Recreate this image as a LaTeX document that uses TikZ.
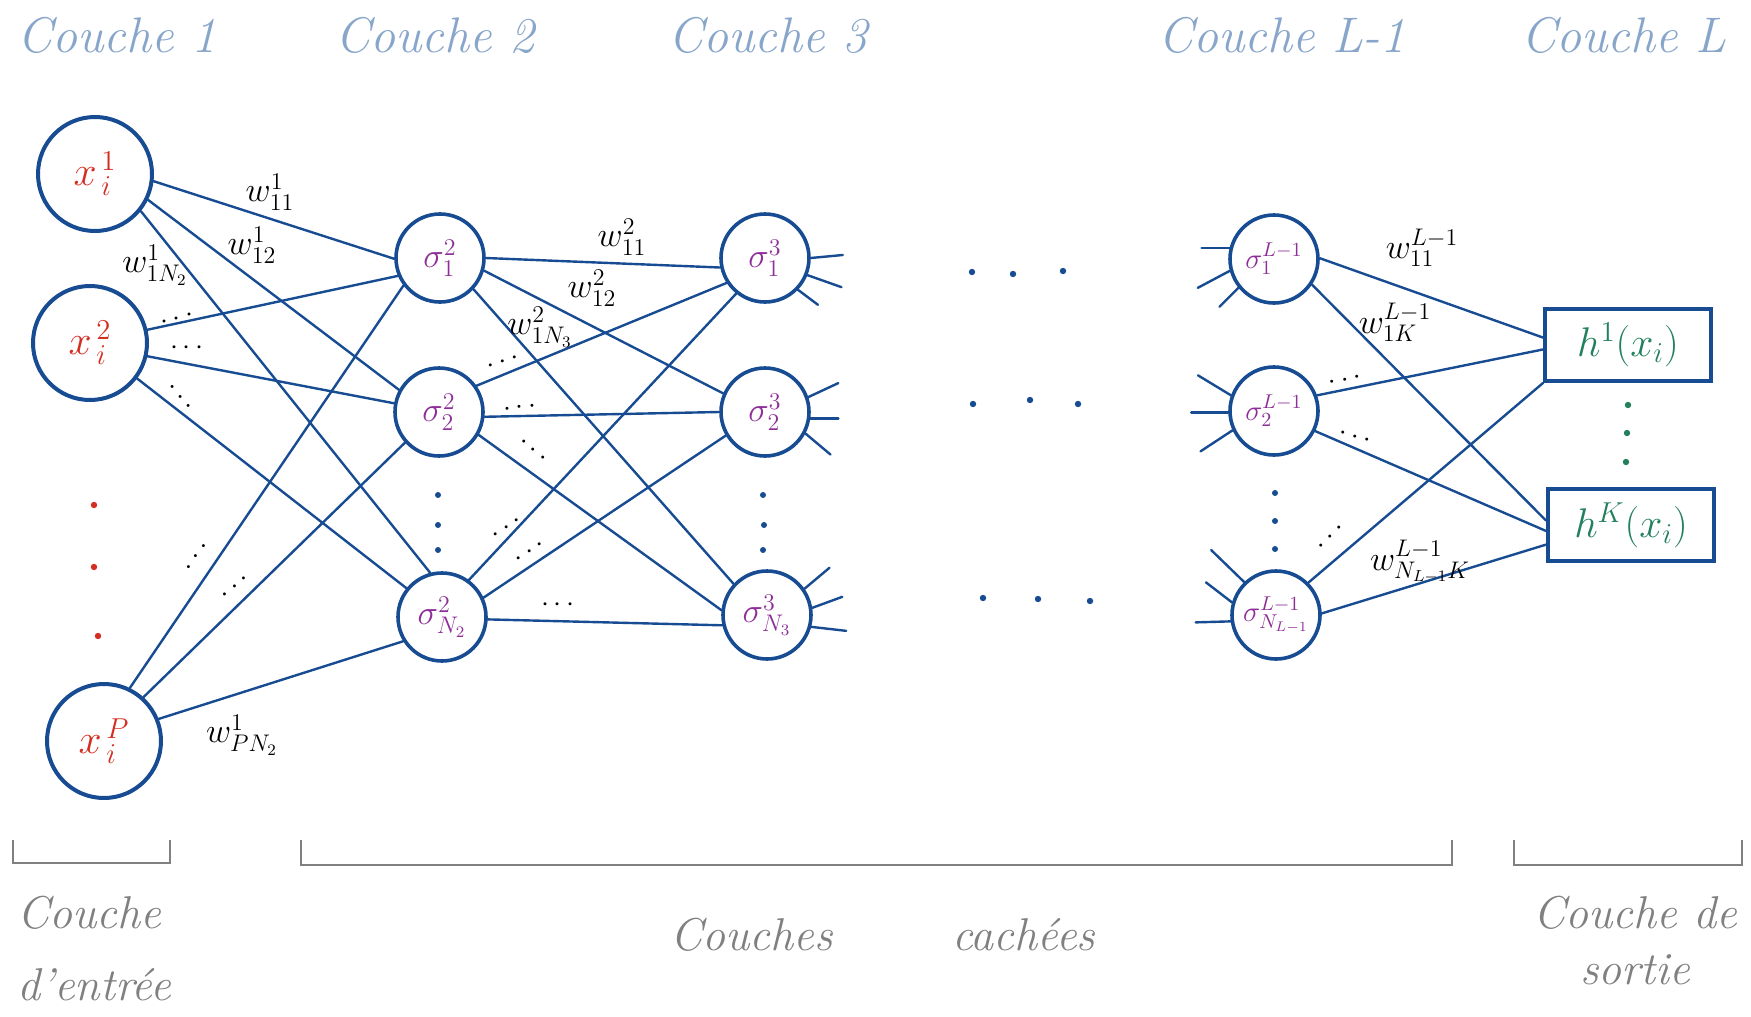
\documentclass[tikz,border=0pt]{standalone}
\usepackage{fontspec}
\usetikzlibrary{calc}

\definecolor{netblue}{RGB}{24,76,146}
\definecolor{inred}{RGB}{212,46,34}
\definecolor{hidpurple}{RGB}{142,46,152}
\definecolor{outgreen}{RGB}{34,128,92}
\definecolor{titleblue}{RGB}{136,166,202}
\definecolor{notegrey}{RGB}{128,128,128}

\tikzset{
  inneuron/.style={circle,draw=netblue,line width=2pt,minimum size=57pt,inner sep=0pt,
    text=inred,font=\fontsize{22}{22}\selectfont},
  hidneuron/.style={circle,draw=netblue,line width=1.8pt,minimum size=44pt,inner sep=0pt,
    text=hidpurple,font=\fontsize{17}{17}\selectfont},
  lastneuron/.style={hidneuron,font=\fontsize{14}{14}\selectfont},
  outunit/.style={rectangle,draw=netblue,line width=2pt,minimum width=83pt,minimum height=36pt,
    inner sep=0pt,text=outgreen,font=\fontsize{20}{20}\selectfont},
  link/.style={draw=netblue,line width=1.2pt,line cap=round},
  weight/.style={font=\fontsize{17}{17}\selectfont,inner sep=0pt},
  ell/.style={font=\fontsize{14}{14}\selectfont,inner sep=0pt},
  layertitle/.style={anchor=base west,text=titleblue,font=\fontsize{25}{30}\selectfont\itshape,inner sep=0pt},
  groupnote/.style={text=notegrey,font=\fontsize{23}{30}\selectfont\itshape,inner sep=0pt},
  bracket/.style={draw=notegrey,line width=1.3pt},
}

\begin{document}
\begin{tikzpicture}[x=0.5pt,y=-0.5pt]
\fill[white] (0,0) rectangle (1751,1017);
\useasboundingbox (0,0) rectangle (1751,1017);

% layer titles
\node[layertitle] (t1) at (17,52) {Couche 1};
\node[layertitle] (t2) at (335,52) {Couche 2};
\node[layertitle] (t3) at (668,52) {Couche 3};
\node[layertitle] (tL1) at (1158,52) {Couche L-1};
\node[layertitle] (tL) at (1521,52) {Couche L};

% input layer
\node[inneuron] (x1) at (95,174) {$x^{\,1}_{\,i}$};
\node[inneuron] (x2) at (90,343) {$x^{\,2}_{\,i}$};
\node[inneuron] (xP) at (104,741) {$x^{\,P}_{\,i}$};
\foreach \p in {(94,505),(94,567),(98,636)} \fill[inred] \p circle[radius=1.6pt];

% hidden layer 2
\node[hidneuron] (a1) at (440,258) {$\sigma^{2}_{1}$};
\node[hidneuron] (a2) at (439,412) {$\sigma^{2}_{2}$};
\node[hidneuron] (aN) at (442,617) {$\sigma^{2}_{N_2}$};
\foreach \p in {(438,495),(438,525),(438,550)} \fill[netblue] \p circle[radius=1.5pt];

% hidden layer 3
\node[hidneuron] (b1) at (765,258) {$\sigma^{3}_{1}$};
\node[hidneuron] (b2) at (765,412) {$\sigma^{3}_{2}$};
\node[hidneuron] (bN) at (767,615) {$\sigma^{3}_{N_3}$};
\foreach \p in {(763,495),(764,525),(763,550)} \fill[netblue] \p circle[radius=1.5pt];

% hidden layer L-1
\node[lastneuron] (c1) at (1274,259) {$\sigma^{L-1}_{1}$};
\node[lastneuron] (c2) at (1274,411) {$\sigma^{L-1}_{2}$};
\node[lastneuron] (cN) at (1276,615) {$\sigma^{L-1}_{N_{L-1}}$};
\foreach \p in {(1275,493),(1275,521),(1275,549)} \fill[netblue] \p circle[radius=1.5pt];

% omitted layers
\foreach \p in {(972,272),(1013,274),(1063,271),(973,404),(1030,400),(1078,404),(983,598),(1038,599),(1090,601)}
  \fill[netblue] \p circle[radius=1.6pt];

% output layer
\node[outunit] (h1) at (1628,345) {$h^{1}(x_i)$};
\node[outunit] (hK) at (1631,525) {$h^{K}(x_i)$};
\foreach \p in {(1628,405),(1627,433),(1626,462)} \fill[outgreen] \p circle[radius=1.6pt];

% connections layer 1 -> 2
\draw[link] (x1.-7) -- (a1.181);
\draw[link] (x1.-26) -- (a2.151);
\draw[link] (x1.-39) -- (aN.105);
\draw[link] (x2.13) -- (a1.203);
\draw[link] (x2.-13) -- (a2.169);
\draw[link] (x2.-37) -- (aN.141);
\draw[link] (xP.64) -- (a1.217);
\draw[link] (xP.48) -- (a2.222);
\draw[link] (xP.22) -- (aN.212);

% connections layer 2 -> 3
\draw[link] (a1.0) -- (b1.192);
\draw[link] (a1.-16) -- (b2.156);
\draw[link] (a1.-43) -- (bN.137);
\draw[link] (a2.35) -- (b1.213);
\draw[link] (a2.-6) -- (b2.180);
\draw[link] (a2.-30) -- (bN.174);
\draw[link] (aN.54) -- (b1.231);
\draw[link] (aN.25) -- (b2.211);
\draw[link] (aN.-3) -- (bN.193);

% outgoing stubs of layer 3
\draw[link] (b1.0) -- ++(32,-3);
\draw[link] (b1.-22) -- ++(34,12);
\draw[link] (b1.-44) -- ++(20,15);
\draw[link] (b2.19) -- ++(30,-14);
\draw[link] (b2.-8) -- ++(28,0);
\draw[link] (b2.-28) -- ++(25,21);
\draw[link] (bN.35) -- ++(25,-21);
\draw[link] (bN.9) -- ++(30,-11);
\draw[link] (bN.-15) -- ++(35,4);

% incoming stubs of layer L-1
\draw[link] (c1.166) -- ++(-28,0);
\draw[link] (c1.195) -- ++(-32,17);
\draw[link] (c1.219) -- ++(-19,19);
\draw[link] (c2.160) -- ++(-33,-20);
\draw[link] (c2.182) -- ++(-37,0);
\draw[link] (c2.205) -- ++(-32,21);
\draw[link] (cN.134) -- ++(-33,-32);
\draw[link] (cN.164) -- ++(-26,-20);
\draw[link] (cN.188) -- ++(-35,1);

% connections layer L-1 -> L
\draw[link] (c1.1) -- (h1.175);
\draw[link] (c1.-34) -- (hK.177);
\draw[link] (c2.20) -- (h1.183);
\draw[link] (c2.-26) -- (hK.184);
\draw[link] (cN.45) -- (h1.south west);
\draw[link] (cN.2) -- (hK.193);

% weights
\node[weight] (w111) at (270,192) {$w^{1}_{11}$};
\node[weight] (w112) at (252,245) {$w^{1}_{12}$};
\node[weight] (w11N) at (155,265) {$w^{1}_{1N_2}$};
\node[weight] (w1PN) at (242,735) {$w^{1}_{PN_2}$};
\node[weight] (w211) at (622,237) {$w^{2}_{11}$};
\node[weight] (w212) at (592,288) {$w^{2}_{12}$};
\node[weight] (w21N) at (540,327) {$w^{2}_{1N_3}$};
\node[weight] (wL11) at (1422,248) {$w^{L-1}_{11}$};
\node[weight] (wL1K) at (1395,322) {$w^{L-1}_{1K}$};
\node[weight] (wLNK) at (1420,562) {$w^{L-1}_{N_{L-1}K}$};

% elided weights
\node[ell,rotate=15] (e1) at (177,319) {$\cdots$};
\node[ell] (e2) at (187,348) {$\cdots$};
\node[ell,rotate=-50] (e3) at (180,397) {$\cdots$};
\node[ell,rotate=55] (e4) at (197,557) {$\cdots$};
\node[ell,rotate=40] (e5) at (235,587) {$\cdots$};
\node[ell,rotate=20] (e6) at (503,362) {$\cdots$};
\node[ell,rotate=8] (e7) at (520,408) {$\cdots$};
\node[ell,rotate=-40] (e8) at (533,450) {$\cdots$};
\node[ell,rotate=35] (e9) at (507,528) {$\cdots$};
\node[ell,rotate=35] (e10) at (530,552) {$\cdots$};
\node[ell] (e11) at (558,605) {$\cdots$};
\node[ell,rotate=10] (e12) at (1345,380) {$\cdots$};
\node[ell,rotate=-15] (e13) at (1355,437) {$\cdots$};
\node[ell,rotate=45] (e14) at (1331,537) {$\cdots$};

% layer groups
\draw[bracket] (13,840) -- (13,863) -- (170,863) -- (170,840);
\draw[bracket] (301,840) -- (301,865) -- (1452,865) -- (1452,840);
\draw[bracket] (1514,840) -- (1514,865) -- (1742,865) -- (1742,840);
\node[groupnote,align=left,anchor=north west,font=\fontsize{23}{36}\selectfont\itshape] (g1) at (17,896) {Couche\\d'entrée};
\node[groupnote,anchor=base west] (g2) at (670,950) {Couches\hspace{60pt}cachées};
\node[groupnote,align=center,anchor=north,font=\fontsize{23}{28}\selectfont\itshape] (g3) at (1635,896) {Couche de\\sortie};
\end{tikzpicture}
\end{document}
